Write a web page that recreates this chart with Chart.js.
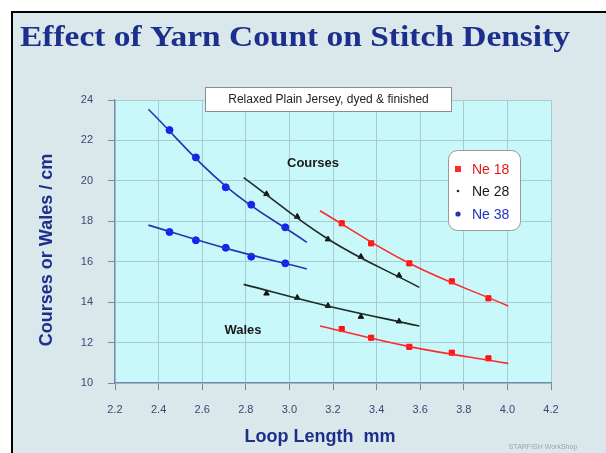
<!DOCTYPE html>
<html>
<head>
<meta charset="utf-8">
<script src="https://cdn.jsdelivr.net/npm/chart.js@4"></script>
<style>
  html, body { margin: 0; padding: 0; background: #fff; }
  #wrap { width: 606px; height: 453px; }
</style>
</head>
<body>
<div id="wrap"><canvas id="chart" width="606" height="453"></canvas></div>
<script>
// ================= DATA =================
const xTicks = [2.2, 2.4, 2.6, 2.8, 3.0, 3.2, 3.4, 3.6, 3.8, 4.0, 4.2];
const yTicks = [10, 12, 14, 16, 18, 20, 22, 24];
const seriesNames = ["Ne 18", "Ne 28", "Ne 38"];

// measured points (loop length mm -> courses / wales per cm)
const ne18Loop = [3.24, 3.375, 3.55, 3.745, 3.913];
const ne18Courses = [17.9, 16.91, 15.92, 15.03, 14.19];
const ne18Wales = [12.67, 12.24, 11.79, 11.5, 11.22];

const ne28Loop = [2.895, 3.036, 3.177, 3.328, 3.503];
const ne28Courses = [19.35, 18.23, 17.11, 16.25, 15.32];
const ne28Wales = [14.43, 14.22, 13.82, 13.28, 13.05];

const ne38Loop = [2.45, 2.571, 2.708, 2.825, 2.981];
const ne38Courses = [22.51, 21.16, 19.68, 18.82, 17.7];
const ne38Wales = [17.47, 17.06, 16.69, 16.25, 15.92];

// trend curves (start, middle, end)
const ne18TrendLoop = [3.14, 3.55, 4.004];
const ne18TrendCourses = [18.52, 15.92, 13.81];
const ne18TrendWales = [12.82, 11.8, 10.97];

const ne28TrendLoop = [2.79, 3.18, 3.596];
const ne28TrendCourses = [20.16, 17.1, 14.73];
const ne28TrendWales = [14.88, 13.8, 12.82];

const ne38TrendLoop = [2.353, 2.71, 3.08];
const ne38TrendCourses = [23.54, 19.72, 16.96];
const ne38TrendWales = [17.81, 16.66, 15.64];

// ================= HELPERS =================
const pts = (xs, ys) => xs.map((x, i) => ({ x: x, y: ys[i] }));

function markers(xs, ys, color, style, r) {
  return {
    type: "scatter",
    data: pts(xs, ys),
    showLine: false,
    pointStyle: style,
    pointRadius: r,
    pointBackgroundColor: color,
    pointBorderColor: color,
    pointBorderWidth: 1
  };
}

function trend(xs, ys, color) {
  return {
    type: "line",
    data: pts(xs, ys),
    borderColor: color,
    borderWidth: 1.6,
    pointRadius: 0,
    fill: false,
    tension: 0.4
  };
}

const RED = "#ff2a2a", BLACK = "#1e2a22", BLUE = "#2436b0";
const NAVY = "#1c2f8c";

// ================= DECORATION PLUGIN =================
const decor = {
  id: "decor",
  beforeDraw(chart) {
    const ctx = chart.ctx, a = chart.chartArea;
    ctx.save();
    ctx.fillStyle = "#ffffff";
    ctx.fillRect(0, 0, 606, 453);
    ctx.fillStyle = "#dae7eb";
    ctx.fillRect(12, 12, 594, 441);
    ctx.fillStyle = "#000";
    ctx.fillRect(11, 11, 595, 2);
    ctx.fillRect(11, 11, 2, 442);
    ctx.fillStyle = "#c9f8fa";
    ctx.fillRect(a.left, a.top, a.right - a.left, a.bottom - a.top);
    ctx.restore();
  },
  afterDraw(chart) {
    const ctx = chart.ctx;
    ctx.save();

    // title, stretched to the reference width
    const title = "Effect of Yarn Count on Stitch Density";
    ctx.fillStyle = NAVY;
    ctx.font = "bold 29px 'Liberation Serif', 'Times New Roman', serif";
    ctx.textAlign = "center";
    ctx.textBaseline = "alphabetic";
    const tw = ctx.measureText(title).width;
    ctx.save();
    ctx.translate(295, 46);
    ctx.scale(550 / tw, 1);
    ctx.fillText(title, 0, 0);
    ctx.restore();

    // axis titles
    ctx.font = "bold 18px 'Liberation Sans', Arial, sans-serif";
    ctx.textBaseline = "middle";
    ctx.fillText("Loop Length  mm", 320, 437);
    ctx.save();
    ctx.translate(47, 250);
    ctx.rotate(-Math.PI / 2);
    ctx.fillText("Courses or Wales / cm", 0, 0);
    ctx.restore();

    // note box
    ctx.fillStyle = "#ffffff";
    ctx.fillRect(205.5, 87.5, 246, 24);
    ctx.strokeStyle = "#8c8c8c";
    ctx.lineWidth = 1;
    ctx.strokeRect(205.5, 87.5, 246, 24);
    ctx.fillStyle = "#222";
    ctx.font = "12px 'Liberation Sans', Arial, sans-serif";
    ctx.fillText("Relaxed Plain Jersey, dyed & finished", 328.5, 100);

    // group labels
    ctx.font = "bold 13px 'Liberation Sans', Arial, sans-serif";
    ctx.fillStyle = "#1a1a1a";
    ctx.fillText("Courses", 313, 163);
    ctx.fillText("Wales", 243, 330);

    // legend
    const lx = 448.5, ly = 150.5, lw = 72, lh = 80, rr = 9;
    ctx.beginPath();
    ctx.roundRect(lx, ly, lw, lh, rr);
    ctx.fillStyle = "#ffffff";
    ctx.fill();
    ctx.strokeStyle = "#9a9a9a";
    ctx.stroke();
    const colors = [RED, BLACK, BLUE];
    const textColors = ["#e01c1c", "#1a1a1a", "#2232c0"];
    const rows = [169, 191, 214];
    ctx.font = "14px 'Liberation Sans', Arial, sans-serif";
    ctx.textAlign = "left";
    seriesNames.forEach((name, i) => {
      ctx.fillStyle = colors[i];
      if (i === 0) {
        ctx.fillRect(455, rows[i] - 3, 6, 6);
      } else {
        ctx.beginPath();
        ctx.arc(458, rows[i], i === 1 ? 1.3 : 2.6, 0, Math.PI * 2);
        ctx.fill();
      }
      ctx.fillStyle = textColors[i];
      ctx.fillText(name, 472, rows[i] + 1);
    });

    // watermark
    ctx.font = "7px 'Liberation Sans', Arial, sans-serif";
    ctx.fillStyle = "#9aa8ac";
    ctx.textAlign = "center";
    ctx.fillText("STARFISH WorkShop", 543, 447);

    ctx.restore();
  }
};

// ================= CHART =================
const tickFont = { family: "'Liberation Sans', Arial, sans-serif", size: 11 };

new Chart(document.getElementById("chart"), {
  type: "scatter",
  data: {
    datasets: [
      trend(ne38TrendLoop, ne38TrendCourses, BLUE),
      trend(ne38TrendLoop, ne38TrendWales, BLUE),
      trend(ne28TrendLoop, ne28TrendCourses, BLACK),
      trend(ne28TrendLoop, ne28TrendWales, BLACK),
      trend(ne18TrendLoop, ne18TrendCourses, RED),
      trend(ne18TrendLoop, ne18TrendWales, RED),
      markers(ne38Loop, ne38Courses, "#1020ff", "circle", 3.5),
      markers(ne38Loop, ne38Wales, "#1020ff", "circle", 3.5),
      markers(ne28Loop, ne28Courses, "#111", "triangle", 3.2),
      markers(ne28Loop, ne28Wales, "#111", "triangle", 3.2),
      markers(ne18Loop, ne18Courses, "#ff1010", "rect", 3.6),
      markers(ne18Loop, ne18Wales, "#ff1010", "rect", 3.6)
    ]
  },
  options: {
    responsive: false,
    animation: false,
    layout: { padding: { top: 100, left: 0, right: 55, bottom: 0 } },
    plugins: {
      legend: { display: false },
      tooltip: { enabled: false }
    },
    scales: {
      x: {
        type: "linear",
        min: xTicks[0],
        max: xTicks[xTicks.length - 1],
        afterBuildTicks: s => { s.ticks = xTicks.map(v => ({ value: v })); },
        afterFit: s => { s.height = 70; },
        ticks: {
          font: tickFont,
          color: "#3a4776",
          padding: 13,
          maxRotation: 0,
          callback: v => Number(v).toFixed(1)
        },
        grid: { color: "#a6cbd2", tickColor: "#7787a6", tickLength: 7 },
        border: { color: "#7787a6", width: 1.2 }
      },
      y: {
        min: yTicks[0],
        max: yTicks[yTicks.length - 1],
        afterBuildTicks: s => { s.ticks = yTicks.map(v => ({ value: v })); },
        afterFit: s => { s.width = 115; },
        ticks: { font: tickFont, color: "#3a4776", padding: 15 },
        grid: { color: "#a6cbd2", tickColor: "#7787a6", tickLength: 7 },
        border: { color: "#7787a6", width: 1.2 }
      }
    }
  },
  plugins: [decor]
});
</script>
</body>
</html>
